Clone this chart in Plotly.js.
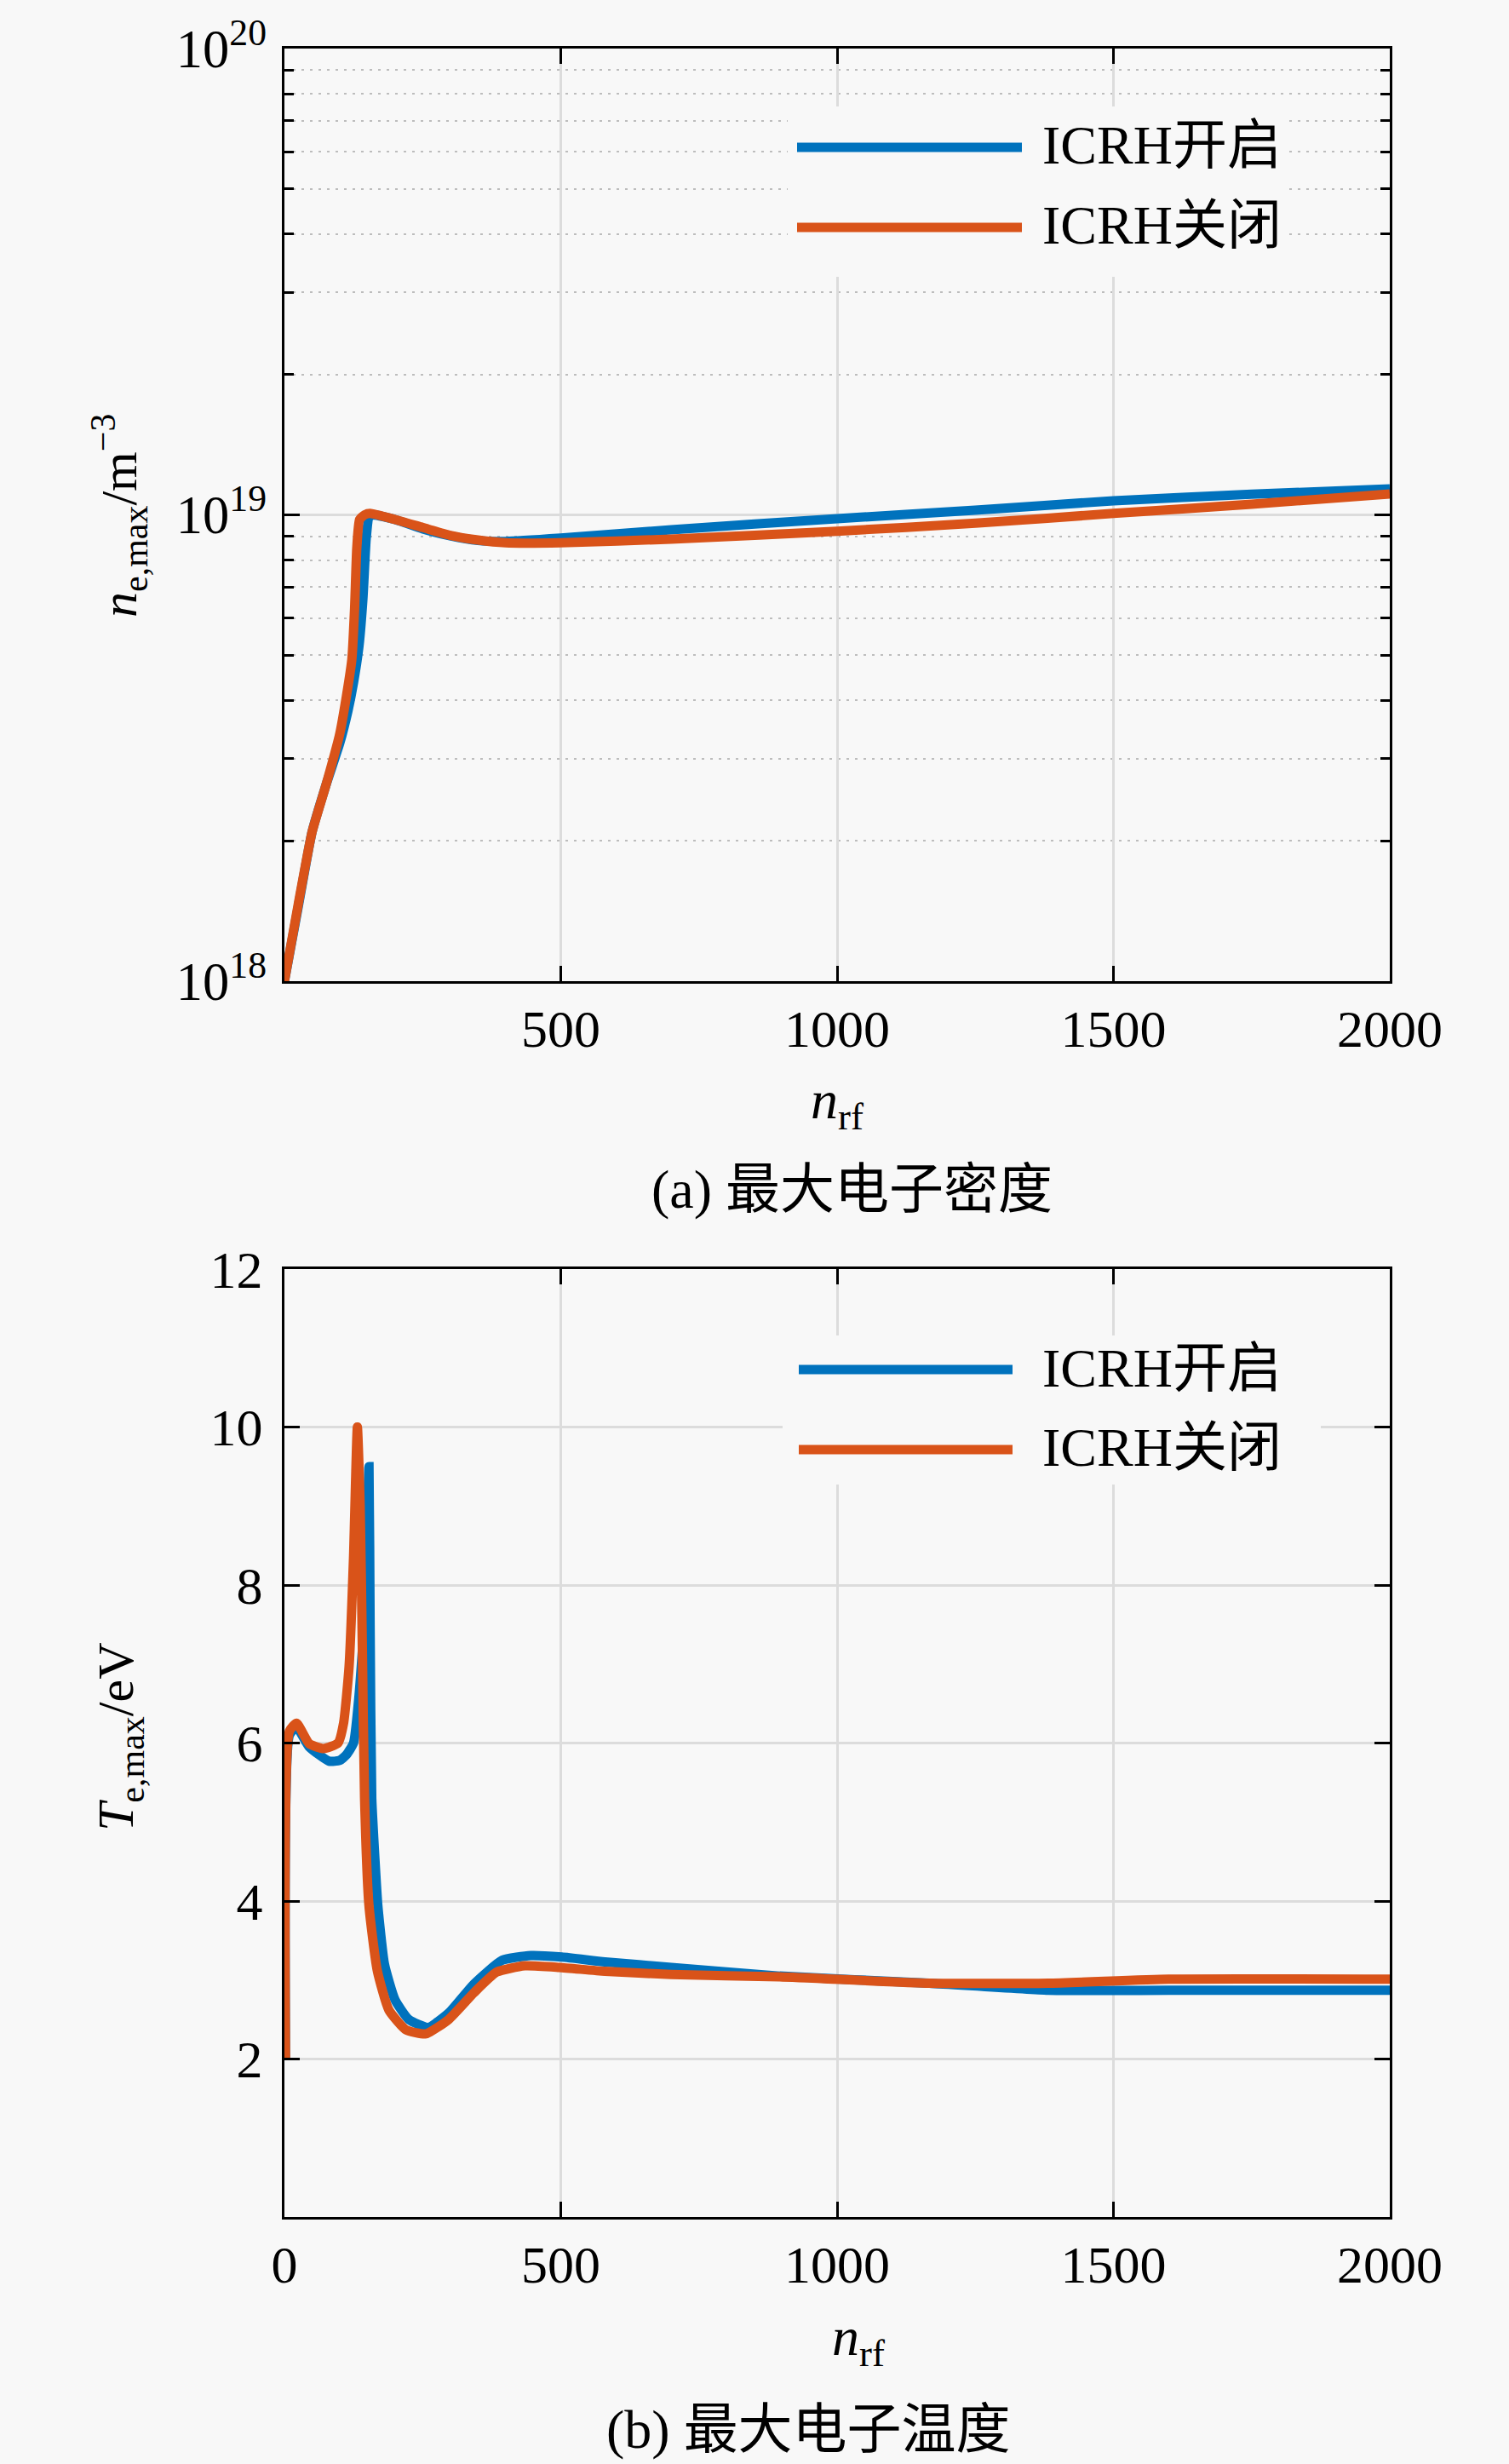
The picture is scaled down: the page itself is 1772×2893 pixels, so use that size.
<!DOCTYPE html>
<html>
<head>
<meta charset="utf-8">
<script src="https://cdn.plot.ly/plotly-3.0.1.min.js"></script>
<style>html,body{margin:0;padding:0;background:#f8f8f8;}</style>
</head>
<body>
<div id="chart" style="width:1772px;height:2893px;"></div>
<script>
// ---------- data ----------
var seriesNames = ['ICRH开启', 'ICRH关闭'];

// (a) maximum electron density
var nrfDensOn  = [0, 25, 50, 75, 100, 115, 125, 135, 142, 148, 153, 160, 200, 250, 300, 350, 400, 500, 700, 1000, 1250, 1500, 1750, 2000];
var densOn     = [1.000e18, 1.445e18, 2.089e18, 2.630e18, 3.236e18, 3.802e18, 4.365e18, 5.248e18, 6.607e18, 8.913e18, 9.886e18, 1.000e19, 9.772e18, 9.333e18, 9.016e18, 8.810e18, 8.770e18, 8.913e18, 9.290e18, 9.817e18, 1.023e19, 1.072e19, 1.107e19, 1.137e19];
var nrfDensOff = [0, 25, 50, 75, 100, 112, 122, 127, 131, 136, 145, 155, 200, 250, 300, 350, 400, 500, 700, 1000, 1250, 1500, 1750, 2000];
var densOff    = [1.000e18, 1.462e18, 2.089e18, 2.630e18, 3.388e18, 4.074e18, 4.898e18, 6.310e18, 8.511e18, 9.772e18, 1.000e19, 1.007e19, 9.772e18, 9.397e18, 9.036e18, 8.831e18, 8.710e18, 8.710e18, 8.872e18, 9.226e18, 9.594e18, 1.007e19, 1.054e19, 1.109e19];

// (b) maximum electron temperature (eV)
var nrfTempOn  = [2, 9, 22, 45, 81, 100, 112, 125, 135, 145, 150, 153, 155, 158, 164, 169, 181, 200, 225, 260, 297, 343, 394, 446, 502, 580, 700, 896, 1167, 1382, 1600, 2000];
var tempOn     = [2.0, 6.1, 6.2, 5.95, 5.77, 5.78, 5.85, 6.0, 6.6, 7.6, 8.8, 9.5, 7.5, 5.3, 4.5, 3.94, 3.2, 2.75, 2.5, 2.40, 2.58, 2.95, 3.25, 3.31, 3.29, 3.23, 3.16, 3.05, 2.96, 2.87, 2.87, 2.87];
var nrfTempOff = [2, 9, 22, 45, 71, 97, 107, 117, 125, 132, 137, 141, 145, 153, 168, 189, 220, 256, 297, 343, 384, 435, 497, 580, 700, 896, 1167, 1382, 1600, 2000];
var tempOff    = [2.0, 6.15, 6.25, 5.99, 5.93, 6.0, 6.25, 6.97, 8.34, 10.0, 9.0, 7.2, 5.3, 3.94, 3.12, 2.62, 2.37, 2.32, 2.50, 2.84, 3.10, 3.18, 3.16, 3.11, 3.07, 3.04, 2.96, 2.96, 3.01, 3.01];

var xTicksTop = [500, 1000, 1500, 2000];
var xTicksBottom = [0, 500, 1000, 1500, 2000];
var yTicksTemp = [2, 4, 6, 8, 10, 12];

var captionA = '(a) 最大电子密度';
var captionB = '(b) 最大电子温度';
var yTitleA = '<i>n</i><sub>e,max</sub>/m<sup>−3</sup>';
var yTitleB = '<i>T</i><sub>e,max</sub>/eV';
var xTitle = '<i>n</i><sub>rf</sub>';

// ---------- styling ----------
var W = 1772, H = 2893;
function px(x) { return x / W; }
function py(y) { return 1 - y / H; }
var BLUE = '#0072BD', ORANGE = '#D95319';
var BG = '#f8f8f8';
var FONT = 'Liberation Serif, "Noto Sans CJK SC", serif';
var LW = 11;

function line(x, y, name, color, xa, ya) {
  return {
    x: x, y: y, name: name, type: 'scatter', mode: 'lines',
    line: {color: color, width: LW, shape: 'spline', smoothing: 0.5},
    xaxis: xa, yaxis: ya, showlegend: false, hoverinfo: 'skip'
  };
}

var traces = [
  line(nrfDensOn, densOn, seriesNames[0], BLUE, 'x', 'y'),
  line(nrfDensOff, densOff, seriesNames[1], ORANGE, 'x', 'y'),
  line(nrfTempOn, tempOn, seriesNames[0], BLUE, 'x2', 'y2'),
  line(nrfTempOff, tempOff, seriesNames[1], ORANGE, 'x2', 'y2')
];

var axCommon = {
  showline: true, linecolor: '#000', linewidth: 3, mirror: 'ticks',
  ticks: 'inside', ticklen: 18, tickwidth: 3, tickcolor: '#000',
  showgrid: true, gridcolor: '#dcdcdc', gridwidth: 3, zeroline: false,
  tickfont: {family: FONT, size: 62, color: '#000'}
};
function ax(extra) { return Object.assign({}, axCommon, extra); }

var plotL = 334, plotR = 1632;
var topT = 57, topB = 1152, botT = 1490, botB = 2603;

var layout = {
  width: W, height: H,
  margin: {l: 0, r: 0, t: 0, b: 0},
  paper_bgcolor: BG, plot_bgcolor: BG,
  showlegend: false,
  font: {family: FONT, color: '#000'},
  xaxis: ax({domain: [px(plotL), px(plotR)], anchor: 'y', range: [0, 2000],
    tickmode: 'array', tickvals: xTicksTop, ticktext: xTicksTop.map(String), ticklabelstandoff: 0}),
  yaxis: ax({domain: [py(topB), py(topT)], anchor: 'x', type: 'log', range: [18, 20],
    dtick: 1, exponentformat: 'power', tickfont: {family: FONT, size: 50, color: '#000'},
    ticklabelstandoff: 8,
    minor: {dtick: 'D1', ticks: 'inside', ticklen: 11, tickwidth: 3, tickcolor: '#000',
      showgrid: true, gridcolor: '#bdbdbd', gridwidth: 2, griddash: '3px,7px'}}),
  xaxis2: ax({domain: [px(plotL), px(plotR)], anchor: 'y2', range: [0, 2000],
    tickmode: 'array', tickvals: xTicksBottom, ticktext: xTicksBottom.map(String), ticklabelstandoff: 0}),
  yaxis2: ax({domain: [py(botB), py(botT)], anchor: 'x2', range: [0, 12],
    tickmode: 'array', tickvals: yTicksTemp, ticktext: yTicksTemp.map(String), ticklabelstandoff: 10}),
  shapes: [],
  annotations: []
};

// legend boxes (drawn as shapes + text, to reproduce the long legend lines)
function addLegend(box, rows, textX) {
  layout.shapes.push({type: 'rect', xref: 'paper', yref: 'paper', layer: 'above',
    x0: px(box[0]), x1: px(box[1]), y0: py(box[3]), y1: py(box[2]),
    fillcolor: BG, line: {width: 0}});
  rows.forEach(function (r) {
    layout.shapes.push({type: 'line', xref: 'paper', yref: 'paper', layer: 'above',
      x0: px(r.x0), x1: px(r.x1), y0: py(r.y), y1: py(r.y),
      line: {color: r.color, width: 11}});
    layout.annotations.push({xref: 'paper', yref: 'paper', x: px(textX), y: py(r.y - 2),
      xanchor: 'left', yanchor: 'middle', showarrow: false, text: r.name,
      font: {family: FONT, size: 64, color: '#000'}});
  });
}
addLegend([925, 1514, 125, 325], [
  {x0: 936, x1: 1200, y: 173, color: BLUE, name: seriesNames[0]},
  {x0: 936, x1: 1200, y: 267, color: ORANGE, name: seriesNames[1]}
], 1222);
addLegend([919, 1551, 1568, 1743], [
  {x0: 938, x1: 1189, y: 1608, color: BLUE, name: seriesNames[0]},
  {x0: 938, x1: 1189, y: 1702, color: ORANGE, name: seriesNames[1]}
], 1222);

function addText(text, x, y, size, angle) {
  layout.annotations.push({xref: 'paper', yref: 'paper', x: px(x), y: py(y),
    xanchor: 'center', yanchor: 'middle', showarrow: false, text: text,
    textangle: angle || 0, font: {family: FONT, size: size, color: '#000'}});
}
addText(yTitleA, 140, 606, 60, -90);
addText(yTitleB, 140, 2040, 60, -90);
addText(xTitle, 983, 1296, 64);
addText(xTitle, 1008, 2748, 64);
addText(captionA, 1000, 1396, 64);
addText(captionB, 949, 2852, 64);

Plotly.newPlot('chart', traces, layout, {staticPlot: true, displayModeBar: false});
</script>
</body>
</html>
